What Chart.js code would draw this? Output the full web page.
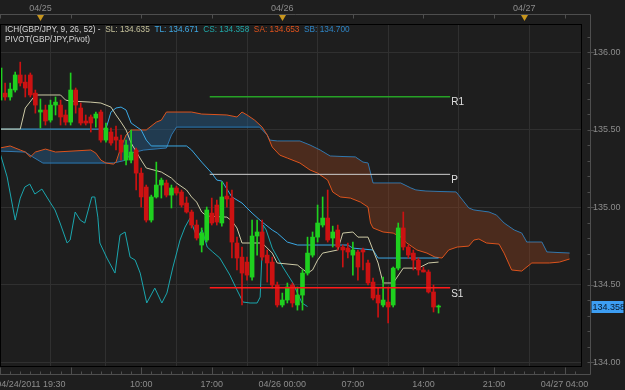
<!DOCTYPE html>
<html>
<head>
<meta charset="utf-8">
<script src="https://cdn.jsdelivr.net/npm/chart.js@4.4.1/dist/chart.umd.min.js"></script>
<style>
  html, body { margin: 0; padding: 0; background: #1e1e1e; }
  #wrap { position: relative; width: 625px; height: 390px; }
  #legend { position: absolute; left: 5px; top: 24px; font: 9px "Liberation Sans", sans-serif; line-height: 10px; color: #d4d4d4; white-space: pre; transform: scaleX(0.92); transform-origin: 0 0; }
  #legend span { margin-right: 5px; }
</style>
</head>
<body>
<div id="wrap">
  <canvas id="chart" width="625" height="390"></canvas>
  <div id="legend"><span>ICH(GBP/JPY, 9, 26, 52) -</span><span style="color:#c4c09a">SL: 134.635</span><span style="color:#3fa9e6">TL: 134.671</span><span style="color:#1fa8a8">CS: 134.358</span><span style="color:#e0521c">SA: 134.653</span><span style="color:#2e84c4">SB: 134.700</span>
<span>PIVOT(GBP/JPY,Pivot)</span></div>
</div>
<script>
// x values are 30 minute bars, bar 0 = 04/25 00:00
const barIndex = [-8,-7,-6,-5,-4,-3,-2,-1,0,1,2,3,4,5,6,7,8,9,10,11,12,13,14,15,16,17,18,19,
  20,21,22,23,24,25,26,27,28,29,30,31,32,33,34,35,36,37,38,39,40,41,42,43,44,45,46,47,48,49,
  50,51,52,53,54,55,56,57,58,59,60,61,62,63,64,65,66,67,68,69,70,71,72,73,74,75,76,77,78,79];

const opens = [135.690,135.735,135.710,135.755,135.852,135.806,135.852,135.735,
  135.613,135.626,135.561,135.658,135.658,135.594,135.548,135.755,135.639,135.555,
  135.581,135.574,135.613,135.432,135.484,135.452,135.432,135.303,135.303,135.368,
  135.219,135.129,134.916,135.065,135.142,135.155,135.077,135.123,135.097,135.026,
  134.968,134.884,134.755,134.787,134.961,135.013,134.897,135.071,135.058,134.768,
  134.677,134.645,134.548,134.813,134.839,134.690,134.645,134.497,134.368,134.400,
  134.497,134.368,134.432,134.574,134.690,134.806,134.884,134.929,134.800,134.852,
  134.742,134.735,134.690,134.710,134.723,134.639,134.516,134.432,134.368,134.387,
  134.368,134.606,134.865,134.742,134.703,134.658,134.594,134.581,134.452,134.355];

const highs = [135.935,135.800,135.800,135.871,135.935,135.852,135.865,135.755,
  135.697,135.658,135.690,135.710,135.690,135.626,135.865,135.768,135.671,135.594,
  135.594,135.613,135.626,135.542,135.510,135.523,135.465,135.432,135.497,135.381,
  135.252,135.142,135.077,135.290,135.187,135.174,135.142,135.135,135.110,135.065,
  134.981,134.916,134.865,135.000,135.058,135.045,135.161,135.161,135.110,134.806,
  134.742,134.677,134.916,134.916,134.916,134.723,134.677,134.516,134.445,134.510,
  134.510,134.484,134.594,134.806,134.839,135.013,135.065,135.110,134.877,134.884,
  134.755,134.768,134.774,134.723,134.735,134.658,134.542,134.477,134.548,134.484,
  134.613,134.897,134.968,134.755,134.723,134.671,134.613,134.594,134.497,134.368];

const lows = [135.658,135.690,135.690,135.742,135.781,135.710,135.710,135.606,
  135.510,135.529,135.548,135.594,135.529,135.529,135.529,135.606,135.529,135.529,
  135.484,135.516,135.419,135.419,135.400,135.368,135.303,135.271,135.284,135.110,
  135.000,134.903,134.903,135.058,135.058,135.065,134.994,135.077,135.000,134.961,
  134.865,134.787,134.710,134.774,134.884,134.884,134.877,135.000,134.671,134.594,
  134.368,134.529,134.529,134.690,134.658,134.516,134.477,134.355,134.355,134.381,
  134.355,134.335,134.335,134.561,134.677,134.774,134.871,134.774,134.742,134.723,
  134.613,134.671,134.561,134.529,134.594,134.497,134.400,134.290,134.355,134.252,
  134.355,134.594,134.723,134.671,134.594,134.561,134.581,134.445,134.323,134.316];

const closes = [135.897,135.710,135.761,135.852,135.800,135.768,135.723,135.658,
  135.626,135.555,135.658,135.677,135.581,135.548,135.755,135.658,135.542,135.542,
  135.542,135.600,135.432,135.510,135.413,135.432,135.355,135.400,135.355,135.219,
  135.065,134.916,135.065,135.142,135.174,135.077,135.123,135.090,135.013,134.968,
  134.884,134.800,134.832,134.981,134.897,134.903,135.065,135.052,134.774,134.671,
  134.574,134.561,134.813,134.839,134.677,134.639,134.497,134.368,134.400,134.484,
  134.381,134.432,134.574,134.703,134.806,134.897,134.929,134.787,134.839,134.742,
  134.723,134.710,134.723,134.613,134.710,134.510,134.413,134.381,134.400,134.355,
  134.606,134.865,134.742,134.690,134.658,134.594,134.581,134.452,134.355,134.358];

// ichimoku lines as [bar, price] vertices
const standardLine = [[-8,135.503],[-4,135.503],[-3,135.639],[-1,135.723],[4,135.723],[5,135.690],[6,135.684],
  [10,135.677],[12,135.671],[14,135.645],[15,135.594],[16,135.548],[17,135.497],[18,135.413],[20,135.303],
  [21,135.252],[24,135.226],[26,135.187],[27,135.155],[29,135.110],[30,135.065],[31,135.032],[32,134.968],
  [33,134.942],[37,134.935],[38,134.910],[39,134.865],[40,134.768],[44,134.768],[46,134.703],[47,134.639],
  [51,134.626],[53,134.574],[54,134.594],[55,134.658],[56,134.703],[59,134.723],[60,134.832],[62,134.839],
  [63,134.806],[65,134.806],[67,134.639],[68,134.510],[70,134.510],[72,134.606],[75,134.606],[77,134.639],[79,134.645]];

const turningLine = [[-8,135.503],[13,135.503],[14,135.613],[15,135.639],[16,135.645],[17,135.626],[18,135.542],
  [20,135.497],[21,135.432],[22,135.394],[29,135.394],[30,135.368],[32,135.290],[34,135.219],[35,135.174],
  [36,135.168],[38,135.065],[40,135.026],[42,134.961],[44,134.903],[46,134.852],[47,134.832],[49,134.774],
  [51,134.755],[61,134.755],[62,134.735],[66,134.723],[67,134.671],[79,134.671]];

const chikouSpan = [[-8,135.348],[-6.6,135.194],[-5,134.916],[-4,135.058],[-3.1,135.129],[-2.1,135.148],
  [-1.1,135.084],[0.3,135.116],[1.9,135.032],[2.9,134.981],[3.9,134.897],[5.3,134.768],[5.9,134.787],
  [6.9,134.968],[7.9,134.916],[8.8,134.897],[10.2,135.065],[10.8,135.065],[11.4,134.935],[11.8,134.768],
  [13.2,134.671],[14.8,134.574],[15.8,134.819],[16.8,134.839],[17.8,134.677],[18.8,134.658],[19.8,134.574],
  [21.1,134.381],[22.7,134.477],[24.1,134.381],[25.1,134.445],[26.3,134.613],[27.7,134.787],[28.7,134.871],
  [29.7,134.929],[30.3,134.871],[31.1,134.800],[32.1,134.852],[33.1,134.742],[34.2,134.710],[35.6,134.671],
  [37.6,134.561],[39,134.465],[40.2,134.387],[41.6,134.381],[43,134.381],[43.6,134.419],[44.2,134.884],
  [44.8,134.852],[46,134.735],[48.1,134.613],[50.1,134.510],[51.9,134.381],[53,134.358]];

const senkouA = [[-8,135.381],[-6,135.394],[-4,135.368],[-3,135.355],[-2,135.323],[-1,135.355],[1,135.374],
  [3,135.355],[10,135.368],[11,135.348],[12,135.303],[13,135.284],[14.5,135.277],[15,135.290],[16,135.387],
  [17,135.465],[18,135.497],[21,135.497],[23,135.548],[24,135.561],[25,135.613],[30,135.613],[32,135.600],
  [37,135.594],[39,135.581],[40,135.613],[41,135.594],[42.5,135.561],[44,135.516],[45,135.465],[46,135.387],
  [47.5,135.335],[49,135.316],[51.5,135.284],[53.5,135.239],[55,135.219],[57,135.174],[58,135.097],
  [59.5,135.065],[61.5,135.058],[63.5,135.032],[65,135.000],[65.5,134.897],[66,134.865],[68,134.839],
  [70,134.832],[71.5,134.806],[72.7,134.768],[74.7,134.723],[76.7,134.703],[78.3,134.677],[79.7,134.671],
  [81,134.723],[82.7,134.742],[85,134.748],[86,134.787],[87,134.794],[88.5,134.768],[91,134.761],
  [92,134.703],[93.5,134.594],[95.5,134.587],[97.5,134.639],[101,134.639],[103,134.645],[105,134.665]];

const senkouB = [[-8,135.361],[-3,135.355],[-1.5,135.323],[0.5,135.284],[14.5,135.284],[17,135.303],
  [18,135.348],[20.5,135.368],[25,135.381],[26,135.465],[27,135.516],[43.5,135.516],[45,135.465],
  [45.5,135.432],[47,135.426],[51.5,135.426],[53.5,135.400],[55.5,135.368],[57.5,135.329],[62.5,135.323],
  [64,135.290],[65,135.284],[66,135.155],[71.5,135.155],[73.5,135.123],[74.5,135.110],[76.5,135.103],
  [82.5,135.097],[85,134.994],[86,134.981],[89,134.968],[90.5,134.948],[92,134.897],[94,134.852],
  [95.5,134.832],[96.5,134.774],[99.5,134.774],[100.5,134.710],[105,134.703]];

// pivot levels
const pivotNames = ['R1', 'P', 'S1'];
const pivotValues = [135.712, 135.211, 134.479];
const pivotColors = ['#26a226', '#cfcfcf', '#ff1a1a'];
const pivotWidths = [1.5, 1, 1.5];
const pivotFrom = 33.6;
const pivotTo = 81.3;

// axes
const yTicks = [134.0, 134.5, 135.0, 135.5, 136.0];
const xTickBars = [-1.9, 6, 20, 34, 48, 62, 76, 90, 104];
const xTickLabels = ['04/24/2011 19:30', '', '10:00', '17:00', '04/26 00:00', '07:00', '14:00', '21:00', '04/27 04:00'];
const dayBars = [0, 48, 96];
const dayLabels = ['04/25', '04/26', '04/27'];

const xMin = -8.016, xMax = 107.46;
const yMin = 133.968, yMax = 136.181;

const bg = '#1e1e1e';
const gridColor = '#303030';
const frameColor = '#4e4e4e';
const textColor = '#8c8c8c';
const up = '#1fd01f';
const down = '#cc1212';
const FONT = '"Liberation Sans", sans-serif';

Chart.defaults.font.family = FONT;
Chart.defaults.font.size = 9;

const pts = arr => arr.map(([x, y]) => ({ x, y }));
const candleColor = ctx => closes[ctx.dataIndex] >= opens[ctx.dataIndex] ? up : down;

const datasets = [
  { // 0
    type: 'line', label: 'SB', data: pts(senkouB), borderColor: '#2a82c2', borderWidth: 1,
    pointRadius: 0, fill: false, order: 9
  },
  { // 1
    type: 'line', label: 'SA', data: pts(senkouA), borderColor: '#dc531c', borderWidth: 1,
    pointRadius: 0, order: 8,
    fill: { target: 0, above: 'rgba(38,100,150,0.42)', below: 'rgba(150,66,30,0.38)' }
  },
  {
    type: 'line', label: 'CS', data: pts(chikouSpan), borderColor: '#1aa6ae', borderWidth: 1,
    pointRadius: 0, fill: false, order: 7
  },
  {
    type: 'line', label: 'TL', data: pts(turningLine), borderColor: '#3aa8e4', borderWidth: 1,
    pointRadius: 0, fill: false, order: 6
  },
  {
    type: 'line', label: 'SL', data: pts(standardLine), borderColor: '#cdcaa6', borderWidth: 1,
    pointRadius: 0, fill: false, order: 5
  },
  {
    type: 'bar', label: 'wick', data: barIndex.map((k, i) => ({ x: k, y: [lows[i], highs[i]] })),
    backgroundColor: candleColor, barThickness: 1, grouped: false, order: 3
  },
  {
    type: 'bar', label: 'body', data: barIndex.map((k, i) => ({ x: k, y: [opens[i], closes[i]] })),
    backgroundColor: candleColor, barThickness: 4, minBarLength: 1, grouped: false, order: 2
  }
];

pivotValues.forEach((v, i) => {
  datasets.push({
    type: 'line', label: pivotNames[i], data: [{ x: pivotFrom, y: v }, { x: pivotTo, y: v }],
    borderColor: pivotColors[i], borderWidth: pivotWidths[i], pointRadius: 0, fill: false, order: 1
  });
});

const decorations = {
  id: 'decorations',
  beforeDraw(chart) {
    const { ctx, width, height } = chart;
    ctx.save();
    ctx.fillStyle = bg;
    ctx.fillRect(0, 0, width, height);
    ctx.restore();
  },
  afterDatasetsDraw(chart) {
    const { ctx, scales: { x, y } } = chart;
    ctx.save();
    ctx.fillStyle = '#e0e0e0';
    ctx.font = '10px ' + FONT;
    ctx.textBaseline = 'middle';
    ctx.textAlign = 'left';
    pivotValues.forEach((v, i) => {
      ctx.fillText(pivotNames[i], x.getPixelForValue(pivotTo) + 1, y.getPixelForValue(v) + 6);
    });
    ctx.restore();
  },
  afterDraw(chart) {
    const { ctx, chartArea: a, scales: { x, y } } = chart;
    ctx.save();
    ctx.lineWidth = 1;
    ctx.strokeStyle = '#000';
    ctx.strokeRect(a.left + 0.5, a.top + 0.5, a.width - 1, a.height - 1);

    const fr = a.right + 8.5, fb = a.bottom + 7.5, ft = a.top - 9.5;
    ctx.strokeStyle = frameColor;
    ctx.beginPath();
    ctx.moveTo(a.left, ft); ctx.lineTo(fr, ft); ctx.lineTo(fr, fb); ctx.lineTo(a.left, fb);
    for (let k = -8; k <= xMax; k += 2) {
      const px = Math.round(x.getPixelForValue(k)) + 0.5;
      const major = (k - 6) % 14 === 0;
      ctx.moveTo(px, fb); ctx.lineTo(px, fb - (major ? 7 : 3));
      if (major) { ctx.moveTo(px, ft); ctx.lineTo(px, ft + 4); }
    }
    for (let i = 0; i <= 21; i++) {
      const py = Math.round(y.getPixelForValue(134 + i * 0.1)) + 0.5;
      const major = i % 5 === 0;
      ctx.moveTo(fr - 3, py); ctx.lineTo(fr + (major ? 4 : 0), py);
    }
    ctx.stroke();

    // day markers
    ctx.fillStyle = '#c8961e';
    dayBars.forEach(k => {
      const px = Math.round(x.getPixelForValue(k)) + 0.5;
      ctx.beginPath();
      ctx.moveTo(px - 3.5, ft + 0.5); ctx.lineTo(px + 3.5, ft + 0.5); ctx.lineTo(px, ft + 6.5);
      ctx.closePath(); ctx.fill();
    });

    // last price tag
    const last = closes[closes.length - 1];
    const py = Math.round(y.getPixelForValue(last));
    ctx.fillStyle = '#3d9ef2';
    ctx.fillRect(fr + 1, py - 6, 32, 12);
    ctx.fillStyle = '#08192c';
    ctx.font = '9px ' + FONT;
    ctx.textBaseline = 'middle';
    ctx.fillText(last.toFixed(3), fr + 2, py + 0.5);
    ctx.restore();
  }
};

new Chart(document.getElementById('chart'), {
  type: 'bar',
  data: { datasets },
  options: {
    responsive: false,
    animation: false,
    events: [],
    layout: { padding: 0 },
    plugins: { legend: { display: false }, tooltip: { enabled: false } },
    scales: {
      x: {
        type: 'linear', position: 'bottom', min: xMin, max: xMax, offset: false,
        afterBuildTicks: s => { s.ticks = xTickBars.map(v => ({ value: v })); },
        afterFit: s => { s.height = 23; s.paddingLeft = 0; s.paddingRight = 0; },
        ticks: { autoSkip: false, maxRotation: 0, padding: 12, color: textColor,
          callback: (v, i) => xTickLabels[i] },
        grid: { drawTicks: false, color: ctx => (ctx.tick && ctx.tick.value === xTickBars[0]) ? 'rgba(0,0,0,0)' : gridColor },
        border: { display: false }
      },
      xTop: {
        type: 'linear', position: 'top', min: xMin, max: xMax, offset: false,
        afterBuildTicks: s => { s.ticks = dayBars.map(v => ({ value: v })); },
        afterFit: s => { s.height = 24; s.paddingLeft = 0; s.paddingRight = 0; },
        ticks: { autoSkip: false, maxRotation: 0, padding: 10, color: textColor,
          callback: (v, i) => dayLabels[i] },
        grid: { display: false, drawTicks: false },
        border: { display: false }
      },
      y: {
        type: 'linear', position: 'right', min: yMin, max: yMax,
        afterBuildTicks: s => { s.ticks = yTicks.map(v => ({ value: v })); },
        afterFit: s => { s.width = 43; s.paddingTop = 0; s.paddingBottom = 0; },
        ticks: { padding: 11, color: textColor, callback: v => v.toFixed(2) },
        grid: { drawTicks: false, color: gridColor },
        border: { display: false }
      }
    }
  },
  plugins: [decorations]
});
</script>
</body>
</html>
